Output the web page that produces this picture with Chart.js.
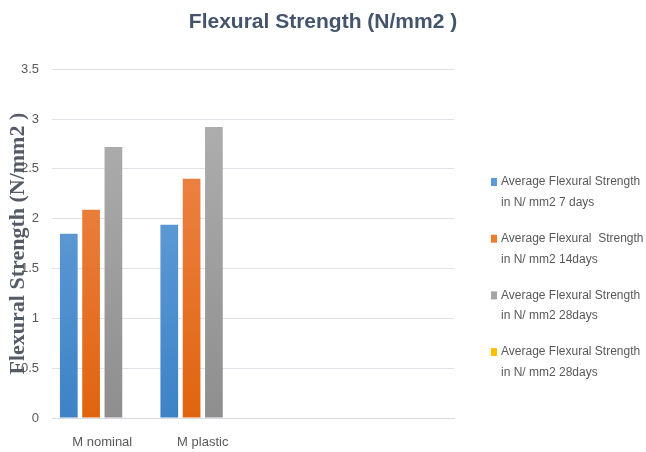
<!DOCTYPE html>
<html>
<head>
<meta charset="utf-8">
<script src="https://cdn.jsdelivr.net/npm/chart.js@4.4.1/dist/chart.umd.min.js"></script>
<style>
  html, body { margin: 0; padding: 0; background: #fff; }
  #wrap { width: 646px; height: 452px; }
</style>
</head>
<body>
<div id="wrap"><canvas id="myChart"></canvas></div>
<script>
// categories and series values
const categories = ['M nominal', 'M plastic', '', ''];
const strength7 = [1.85, 1.94, null, null];
const strength14 = [2.09, 2.40, null, null];
const strength28 = [2.72, 2.92, null, null];
const strength28b = [null, null, null, null];
const seriesNames = [
  ['Average Flexural Strength', 'in N/ mm2 7 days'],
  ['Average Flexural  Strength', 'in N/ mm2 14days'],
  ['Average Flexural Strength', 'in N/ mm2 28days'],
  ['Average Flexural Strength', 'in N/ mm2 28days']
];
const yTicks = [0, 0.5, 1, 1.5, 2, 2.5, 3, 3.5];

// top / bottom colours of each bar fill
const fills = [
  ['#74a9de', '#3d83c6', '#5b9bd5'],
  ['#f18d58', '#e0640f', '#ed7d31'],
  ['#b3b3b3', '#8e8e8e', '#a5a5a5'],
  ['#ffd34d', '#f0b400', '#ffc000']
];

function barFill(i) {
  return function (ctx) {
    const area = ctx.chart.chartArea;
    if (!area) return fills[i][2];
    const g = ctx.chart.ctx.createLinearGradient(0, area.top, 0, area.bottom);
    g.addColorStop(0, fills[i][0]);
    g.addColorStop(1, fills[i][1]);
    return g;
  };
}

const seriesData = [strength7, strength14, strength28, strength28b];
const datasets = seriesData.map((d, i) => ({
  label: seriesNames[i].join(' '),
  data: d,
  backgroundColor: barFill(i),
  borderWidth: 0,
  categoryPercentage: 0.888,
  barPercentage: 0.794
}));

// legend drawn at the right with two-line labels
const sideLegend = {
  id: 'sideLegend',
  afterDraw(chart) {
    const ctx = chart.ctx;
    ctx.save();
    ctx.font = '12px "Liberation Sans", Arial, sans-serif';
    ctx.textBaseline = 'middle';
    seriesNames.forEach((lines, i) => {
      const y = 182 + i * 56.7;
      ctx.fillStyle = fills[i][2];
      ctx.fillRect(491, y - 4, 6, 8);
      ctx.fillStyle = '#595959';
      lines.forEach((t, k) => ctx.fillText(t, 501, y + k * 20.5));
    });
    ctx.restore();
  }
};

const chart_obj = document.getElementById('myChart');

new Chart(chart_obj, {
  type: 'bar',
  data: { labels: categories, datasets: datasets },
  plugins: [sideLegend],
  options: {
    responsive: true,
    maintainAspectRatio: false,
    animation: false,
    layout: { padding: 0 },
    plugins: {
      legend: { display: false },
      tooltip: { enabled: false },
      title: {
        display: true,
        text: 'Flexural Strength (N/mm2 )',
        color: '#44546a',
        font: { family: '"Liberation Sans", Arial, sans-serif', size: 21, weight: 'bold', lineHeight: 1.2 },
        padding: { top: 10, bottom: 34 }
      }
    },
    scales: {
      x: {
        grid: { display: false },
        border: { display: true, color: '#d9dde3' },
        ticks: {
          color: '#595959',
          padding: 9,
          font: { family: '"Liberation Sans", Arial, sans-serif', size: 13 }
        },
        afterFit(s) { s.height = 34; }
      },
      y: {
        min: 0,
        max: 3.5,
        afterBuildTicks(s) { s.ticks = yTicks.map(v => ({ value: v })); },
        grid: { color: '#dfe3e8', drawTicks: false },
        border: { display: false },
        ticks: {
          color: '#595959',
          padding: 13,
          font: { family: '"Liberation Sans", Arial, sans-serif', size: 13 },
          callback: v => String(v)
        },
        title: {
          display: true,
          text: 'Flexural Strength (N/mm2 )',
          color: '#555b66',
          font: { family: '"Liberation Serif", "Times New Roman", serif', size: 22, weight: 'bold' },
          padding: { top: 5, bottom: 0 }
        },
        afterFit(s) { s.width = 52; }
      },
      // empty axis on the right that reserves room for the legend
      side: {
        type: 'linear',
        position: 'right',
        display: true,
        ticks: { display: false },
        grid: { display: false },
        border: { display: false },
        afterFit(s) { s.width = 192; }
      }
    }
  }
});
</script>
</body>
</html>
